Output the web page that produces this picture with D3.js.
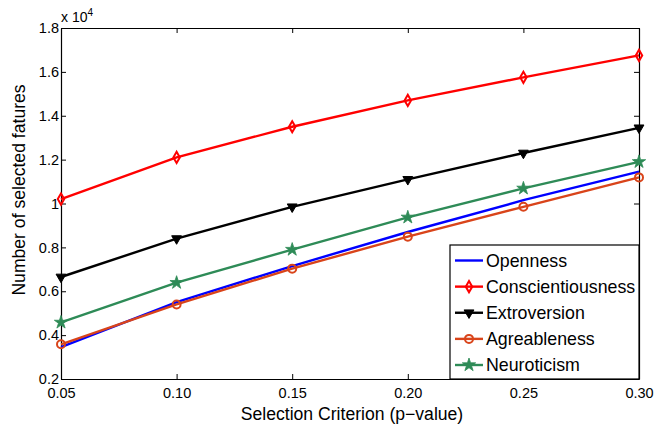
<!DOCTYPE html>
<html>
<head>
<meta charset="utf-8">
<script src="https://cdn.jsdelivr.net/npm/d3@7"></script>
<style>
  body { margin: 0; background: #fff; }
  svg { font-family: "Liberation Sans", Arial, sans-serif; }
</style>
</head>
<body>
<div id="chart"></div>
<script>
// p-value thresholds
const pValues = [0.05, 0.10, 0.15, 0.20, 0.25, 0.30];

// number of selected features (x 10^4)
const openness          = [0.345, 0.55, 0.715, 0.87, 1.015, 1.145];
const conscientiousness = [1.02, 1.21, 1.35, 1.47, 1.575, 1.675];
const extroversion      = [0.665, 0.84, 0.985, 1.11, 1.23, 1.345];
const agreeableness     = [0.358, 0.54, 0.703, 0.849, 0.985, 1.119];
const neuroticism       = [0.458, 0.639, 0.79, 0.937, 1.069, 1.19];

const yTicks = [0.2, 0.4, 0.6, 0.8, 1.0, 1.2, 1.4, 1.6, 1.8];

const series = [
  { name: "Openness", values: openness, color: "#0000ff", marker: null },
  { name: "Conscientiousness", values: conscientiousness, color: "#ff0000", marker: "diamond" },
  { name: "Extroversion", values: extroversion, color: "#000000", marker: "triangle" },
  { name: "Agreableness", values: agreeableness, color: "#d9441a", marker: "circle" },
  { name: "Neuroticism", values: neuroticism, color: "#2e8b57", marker: "star" }
];

const W = 657, H = 425;
const margin = { top: 28, right: 18, bottom: 46, left: 61 };
const w = W - margin.left - margin.right;
const h = H - margin.top - margin.bottom;

const svg = d3.select("#chart").append("svg")
  .attr("width", W)
  .attr("height", H);

const g = svg.append("g")
  .attr("transform", `translate(${margin.left},${margin.top})`);

const x = d3.scaleLinear().domain([0.05, 0.30]).range([0, w]);
const y = d3.scaleLinear().domain([0.2, 1.8]).range([h, 0]);

// axes, ticks pointing inwards on all four sides
const tickLen = 5;
const styleAxis = sel => {
  sel.select(".domain").attr("stroke", "#000").attr("stroke-width", 1.2);
  sel.selectAll(".tick line").attr("stroke", "#000");
  sel.selectAll(".tick text").attr("fill", "#000").style("font-size", "14.5px");
};

g.append("g")
  .attr("transform", `translate(0,${h})`)
  .call(d3.axisBottom(x).tickValues(pValues).tickFormat(d => d.toFixed(2))
    .tickSizeInner(-tickLen).tickSizeOuter(0).tickPadding(8.5))
  .call(styleAxis);

g.append("g")
  .call(d3.axisTop(x).tickValues(pValues).tickFormat("")
    .tickSizeInner(-tickLen).tickSizeOuter(0))
  .call(styleAxis);

g.append("g")
  .call(d3.axisLeft(y).tickValues(yTicks).tickFormat(d => String(+d.toFixed(1)))
    .tickSizeInner(-tickLen).tickSizeOuter(0).tickPadding(2))
  .call(styleAxis);

g.append("g")
  .attr("transform", `translate(${w},0)`)
  .call(d3.axisRight(y).tickValues(yTicks).tickFormat("")
    .tickSizeInner(-tickLen).tickSizeOuter(0))
  .call(styleAxis);

// exponent label
const expo = g.append("text")
  .attr("x", 0)
  .attr("y", -6)
  .style("font-size", "14px");
expo.append("tspan").text("x 10");
expo.append("tspan").attr("dy", -6).style("font-size", "10px").text("4");

// axis titles
svg.append("text")
  .attr("x", margin.left + w / 2 + 2)
  .attr("y", 420)
  .attr("text-anchor", "middle")
  .style("font-size", "17.6px")
  .text("Selection Criterion (p\u2212value)");

svg.append("text")
  .attr("transform", `translate(25,190) rotate(-90)`)
  .attr("text-anchor", "middle")
  .style("font-size", "17.6px")
  .text("Number of selected fatures");

// markers
const drawMarker = (sel, s) => {
  if (s.marker === "diamond") {
    sel.append("path")
      .attr("d", d3.symbol(d3.symbolDiamond, 36)())
      .attr("fill", "none").attr("stroke", s.color).attr("stroke-width", 2);
  } else if (s.marker === "triangle") {
    sel.append("path")
      .attr("d", d3.symbol(d3.symbolTriangle, 42)())
      .attr("transform", "rotate(180)")
      .attr("fill", s.color).attr("stroke", s.color).attr("stroke-width", 1);
  } else if (s.marker === "circle") {
    sel.append("circle")
      .attr("r", 4)
      .attr("fill", "none").attr("stroke", s.color).attr("stroke-width", 2);
  } else if (s.marker === "star") {
    sel.append("path")
      .attr("d", d3.symbol(d3.symbolStar, 55)())
      .attr("fill", s.color).attr("stroke", s.color).attr("stroke-width", 0.8);
  }
};

const line = d3.line()
  .x((d, i) => x(pValues[i]))
  .y(d => y(d));

series.forEach(s => {
  g.append("path")
    .datum(s.values)
    .attr("fill", "none")
    .attr("stroke", s.color)
    .attr("stroke-width", 2.4)
    .attr("d", line);

  if (s.marker) {
    g.selectAll(null)
      .data(s.values)
      .join("g")
      .attr("transform", (d, i) => `translate(${x(pValues[i])},${y(d)})`)
      .each(function() { drawMarker(d3.select(this), s); });
  }
});

// legend
const lgX = 450 - margin.left, lgY = 245 - margin.top;
const lgW = w - lgX, lgH = h - lgY;
const legend = g.append("g").attr("transform", `translate(${lgX},${lgY})`);
legend.append("rect")
  .attr("width", lgW).attr("height", lgH)
  .attr("fill", "#fff").attr("stroke", "#000").attr("stroke-width", 1.2);

const rowY = d3.scalePoint().domain(series.map(s => s.name)).range([15.5, 120]);

series.forEach(s => {
  const row = legend.append("g").attr("transform", `translate(0,${rowY(s.name)})`);
  row.append("line")
    .attr("x1", 5).attr("x2", 33)
    .attr("stroke", s.color).attr("stroke-width", 2.4);
  if (s.marker) {
    const m = row.append("g").attr("transform", "translate(19,0)");
    drawMarker(m, s);
  }
  row.append("text")
    .attr("x", 36)
    .attr("dy", "0.35em")
    .style("font-size", "17.8px")
    .text(s.name);
});
</script>
</body>
</html>
